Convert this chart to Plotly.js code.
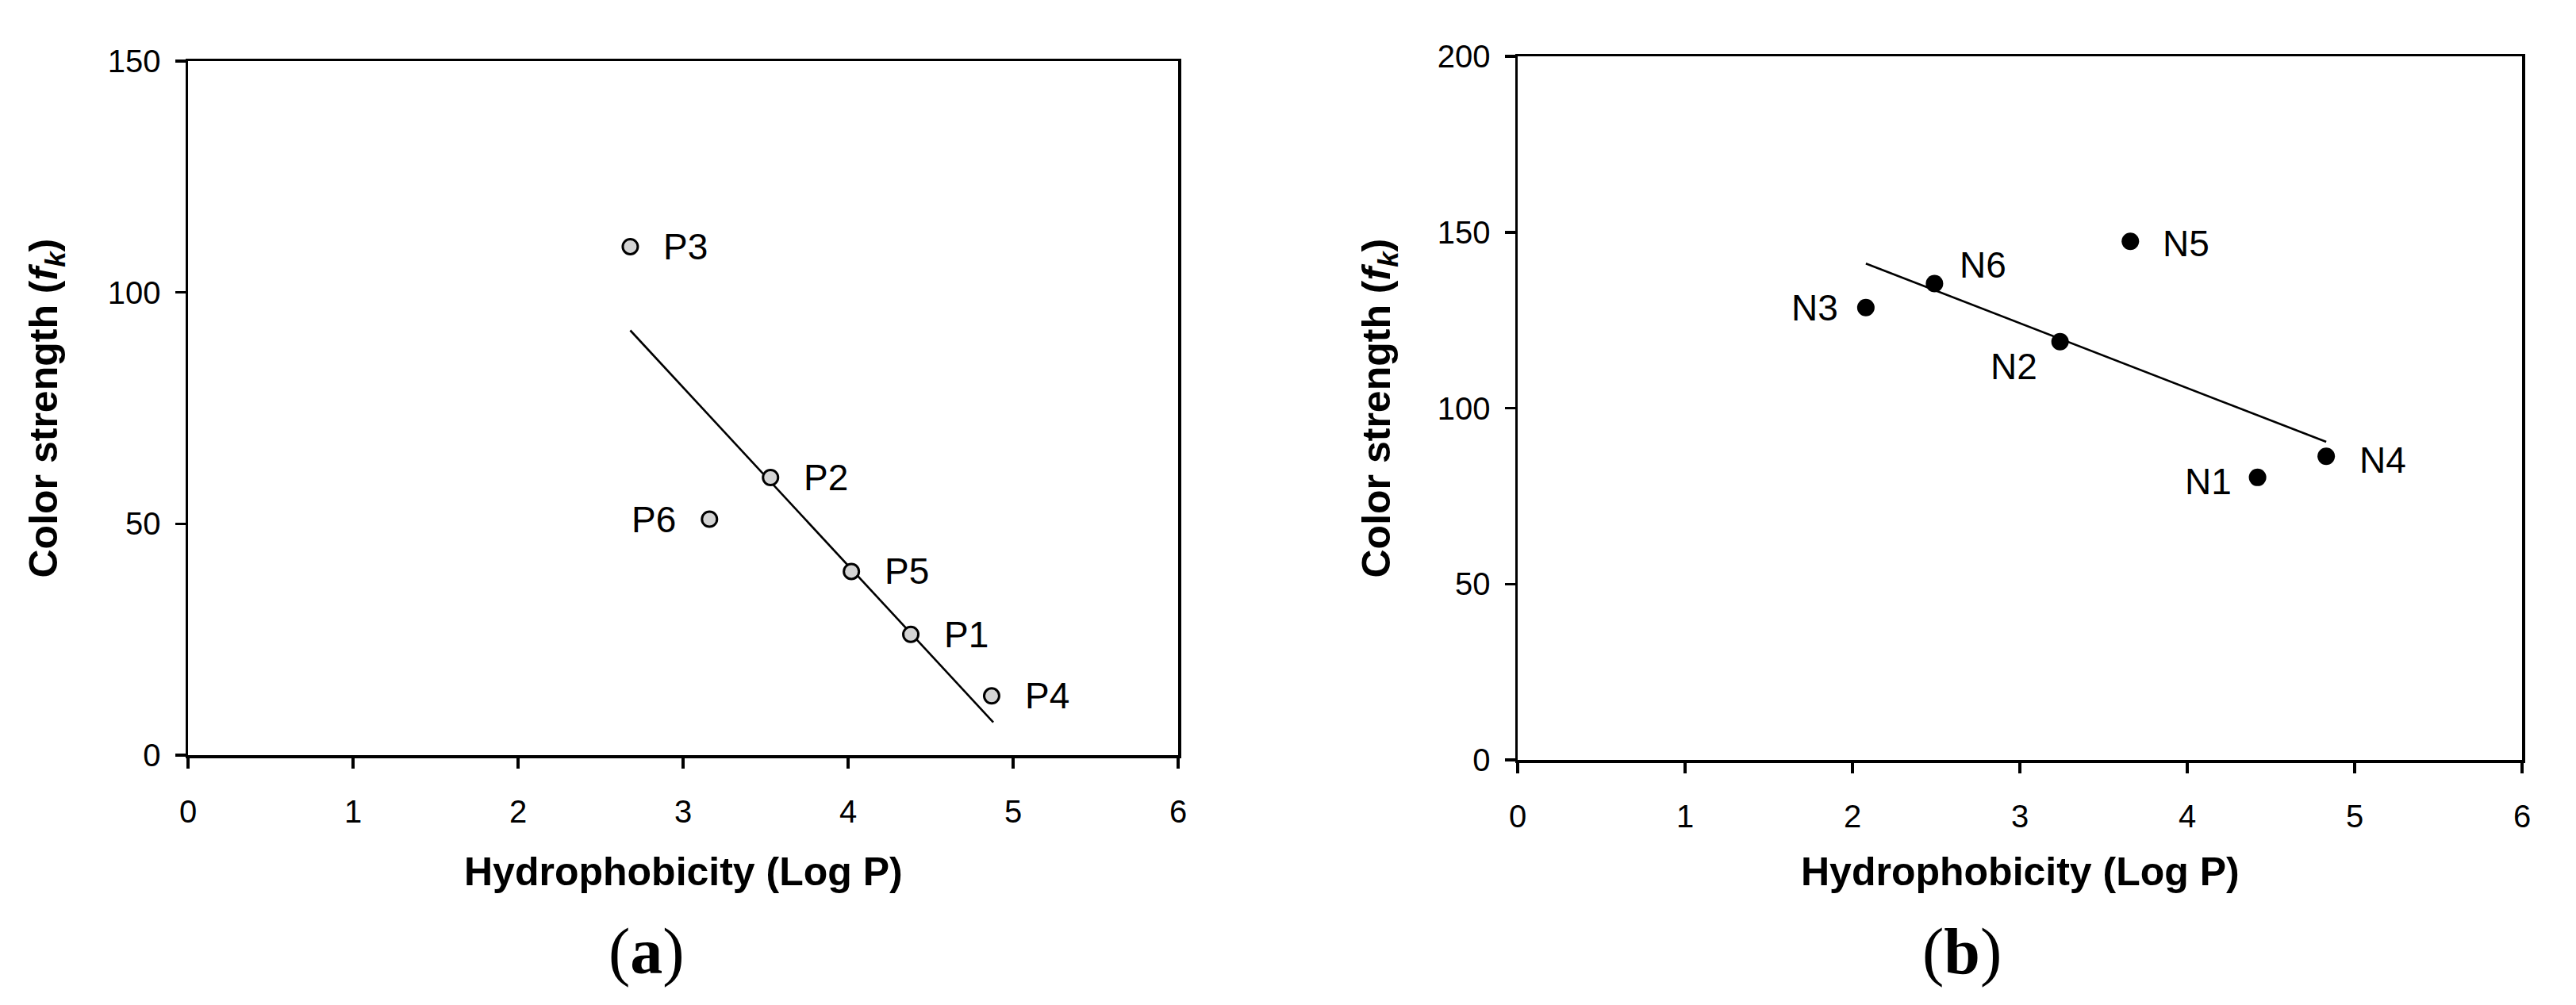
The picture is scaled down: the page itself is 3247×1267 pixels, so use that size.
<!DOCTYPE html>
<html>
<head>
<meta charset="utf-8">
<script src="https://cdn.plot.ly/plotly-3.0.1.min.js"></script>
<style>
  html, body { margin: 0; padding: 0; background: #fff; }
  #chart { width: 3247px; height: 1267px; }
</style>
</head>
<body>
<div id="chart"></div>
<script>
// panel (a): P series
const pLabels = ['P1', 'P2', 'P3', 'P4', 'P5', 'P6'];
const pLogP = [4.38, 3.53, 2.68, 4.87, 4.02, 3.16];
const pStrength = [26.1, 60.0, 109.9, 12.8, 39.7, 51.0];
const pFitX = [2.68, 4.88];
const pFitY = [91.8, 7.1];

// panel (b): N series
const nLabels = ['N1', 'N2', 'N3', 'N4', 'N5', 'N6'];
const nLogP = [4.42, 3.24, 2.08, 4.83, 3.66, 2.49];
const nStrength = [80.3, 118.9, 128.6, 86.3, 147.4, 135.4];
const nFitX = [2.08, 4.83];
const nFitY = [141.1, 90.4];

const xTicks = [0, 1, 2, 3, 4, 5, 6];
const yTicksA = [0, 50, 100, 150];
const yTicksB = [0, 50, 100, 150, 200];

const FONT = 'Liberation Sans, Arial, sans-serif';
const W = 3247, H = 1267;

// label placement (style only): [xshift px, yshift px] per point
const pLabelShift = [[40, 0], [40, 0], [40, 0], [40, 0], [40, 0], [-40, 0]];
const nLabelShift = [[-31, -5], [-27, -31], [-33, 0], [40, -5], [39, -3], [30, 24]];

const traces = [
  {x: pFitX, y: pFitY, xaxis: 'x', yaxis: 'y', mode: 'lines',
   line: {color: '#000', width: 2.6}, hoverinfo: 'skip'},
  {x: pLogP, y: pStrength, xaxis: 'x', yaxis: 'y', mode: 'markers',
   marker: {size: 19, color: '#d4d4d4', line: {color: '#000', width: 3}}},
  {x: nFitX, y: nFitY, xaxis: 'x2', yaxis: 'y2', mode: 'lines',
   line: {color: '#000', width: 2.6}, hoverinfo: 'skip'},
  {x: nLogP, y: nStrength, xaxis: 'x2', yaxis: 'y2', mode: 'markers',
   marker: {size: 22, color: '#000'}}
];

function axisX(domain, anchor) {
  return {domain, anchor, range: [0, 6], tickvals: xTicks, ticks: 'outside', ticklen: 13,
    tickwidth: 3.5, tickcolor: '#000', showline: true, linewidth: 3.5, linecolor: '#000',
    mirror: true, showgrid: false, zeroline: false, ticklabelstandoff: 20,
    tickfont: {family: FONT, size: 40, color: '#000'}};
}
function axisY(domain, anchor, range, vals) {
  return {domain, anchor, range, tickvals: vals, ticks: 'outside', ticklen: 13,
    tickwidth: 3.5, tickcolor: '#000', showline: true, linewidth: 3.5, linecolor: '#000',
    mirror: true, showgrid: false, zeroline: false, ticklabelstandoff: 10,
    tickfont: {family: FONT, size: 40, color: '#000'}};
}

const annotations = [];
function pointLabels(labels, xs, ys, shifts, xref, yref) {
  labels.forEach((t, i) => {
    const [dx, dy] = shifts[i];
    annotations.push({text: t, x: xs[i], y: ys[i], xref, yref, showarrow: false,
      xanchor: dx >= 0 ? 'left' : 'right', yanchor: 'middle', xshift: dx, yshift: dy,
      font: {family: FONT, size: 46, color: '#000'}});
  });
}
pointLabels(pLabels, pLogP, pStrength, pLabelShift, 'x', 'y');
pointLabels(nLabels, nLogP, nStrength, nLabelShift, 'x2', 'y2');

const xDomA = [237 / W, 1485 / W], yDomA = [1 - 952 / H, 1 - 77 / H];
const xDomB = [1913 / W, 3179 / W], yDomB = [1 - 958 / H, 1 - 71 / H];
const xTitle = '<b>Hydrophobicity (Log P)</b>';
const yTitle = '<b>Color strength (<i>f</i><sub><i>k</i></sub>)</b>';

[[xDomA, yDomA, 58, '(<b>a</b>)', 815], [xDomB, yDomB, 1738, '(<b>b</b>)', 2473]].forEach(([xd, yd, ytx, tag, tagx]) => {
  annotations.push({text: xTitle, xref: 'paper', yref: 'paper', x: (xd[0] + xd[1]) / 2,
    y: 1 - 1099 / H, xanchor: 'center', yanchor: 'middle', showarrow: false,
    font: {family: FONT, size: 50, color: '#000'}});
  annotations.push({text: yTitle, xref: 'paper', yref: 'paper', x: ytx / W,
    y: (yd[0] + yd[1]) / 2, xanchor: 'center', yanchor: 'middle', textangle: -90, showarrow: false,
    font: {family: FONT, size: 50, color: '#000'}});
  annotations.push({text: tag, xref: 'paper', yref: 'paper', x: tagx / W, y: 1 - 1199 / H,
    xanchor: 'center', yanchor: 'middle', showarrow: false,
    font: {family: 'Liberation Serif, DejaVu Serif, serif', size: 82, color: '#000'}});
});

const layout = {
  width: W, height: H, margin: {l: 0, r: 0, t: 0, b: 0},
  paper_bgcolor: '#fff', plot_bgcolor: '#fff', showlegend: false,
  xaxis: axisX(xDomA, 'y'),
  yaxis: axisY(yDomA, 'x', [0, 150], yTicksA),
  xaxis2: axisX(xDomB, 'y2'),
  yaxis2: axisY(yDomB, 'x2', [0, 200], yTicksB),
  annotations
};

Plotly.newPlot('chart', traces, layout, {staticPlot: true});
</script>
</body>
</html>
